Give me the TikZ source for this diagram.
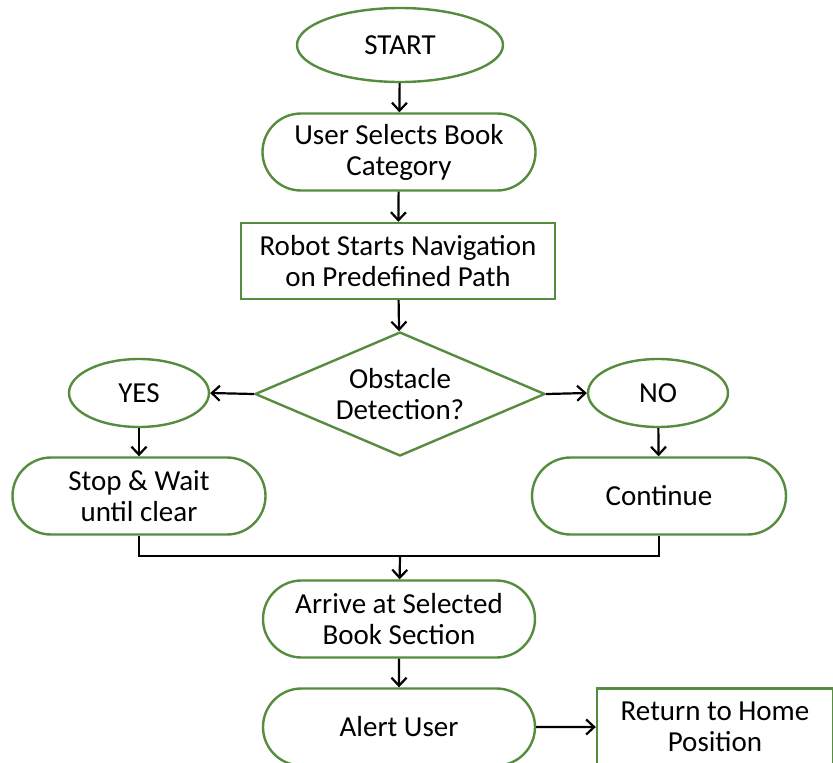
\documentclass[tikz,border=0pt]{standalone}
\usepackage{fontspec}
\setmainfont{Carlito}
\usepackage{tikz}
\usetikzlibrary{arrows.meta,shapes.geometric,shapes.misc,positioning,calc}
\definecolor{flowgreen}{RGB}{86,140,62}

\begin{document}
\begin{tikzpicture}[
    x=1pt, y=1pt,
    every node/.style={font=\fontsize{29}{31}\selectfont, align=center, inner sep=0pt},
    term/.style={draw=flowgreen, line width=2.4pt, ellipse, fill=white},
    stadium/.style={draw=flowgreen, line width=2.4pt, rounded rectangle, minimum width=273pt, minimum height=77pt, fill=white},
    procbox/.style={draw=flowgreen, line width=2.4pt, rectangle, minimum height=77pt, fill=white},
    decision/.style={draw=flowgreen, line width=2.4pt, diamond, aspect=2.34, minimum width=290pt, minimum height=124pt, fill=white},
    arr/.style={-{Straight Barb[length=8pt, width=15pt, line width=2.2pt]}, line width=2.2pt}
]
\useasboundingbox (0,0) rectangle (833,-763);
\node[term, minimum width=206pt, minimum height=74pt] (start) at (400,-45) {START};
\node[stadium] (select) at (399,-152) {User Selects Book\\Category};
\node[procbox, minimum width=314pt, minimum height=76pt] (nav) at (398,-261) {Robot Starts Navigation\\on Predefined Path};
\node[decision] (obst) at (400,-394) {Obstacle\\Detection?};
\node[term, minimum width=140pt, minimum height=68pt] (yes) at (139,-393) {YES};
\node[term, minimum width=140pt, minimum height=68pt] (no) at (658,-393) {NO};
\node[stadium, minimum width=253pt] (wait) at (139,-496) {Stop \& Wait\\until clear};
\node[stadium, minimum width=254pt] (cont) at (659,-496) {Continue};
\coordinate (join) at (400,-556);
\node[stadium, minimum width=272pt] (arrive) at (399,-619) {Arrive at Selected\\Book Section};
\node[stadium, minimum width=272pt] (alert) at (399,-727) {Alert User};
\node[procbox, minimum width=236pt] (home) at (715,-727) {Return to Home\\Position};

\draw[arr] (start) -- (select);
\draw[arr] (select) -- (nav);
\draw[arr] (nav) -- (obst);
\draw[arr] (obst.west) -- (yes.east);
\draw[arr] (obst.east) -- (no.west);
\draw[arr] (yes) -- (wait);
\draw[arr] (no) -- (cont);
\draw[line width=2.2pt] (wait.south) |- (join) -| (cont.south);
\draw[arr] (join) -- (arrive);
\draw[arr] (arrive) -- (alert);
\draw[arr] (alert) -- (home);
\end{tikzpicture}
\end{document}
